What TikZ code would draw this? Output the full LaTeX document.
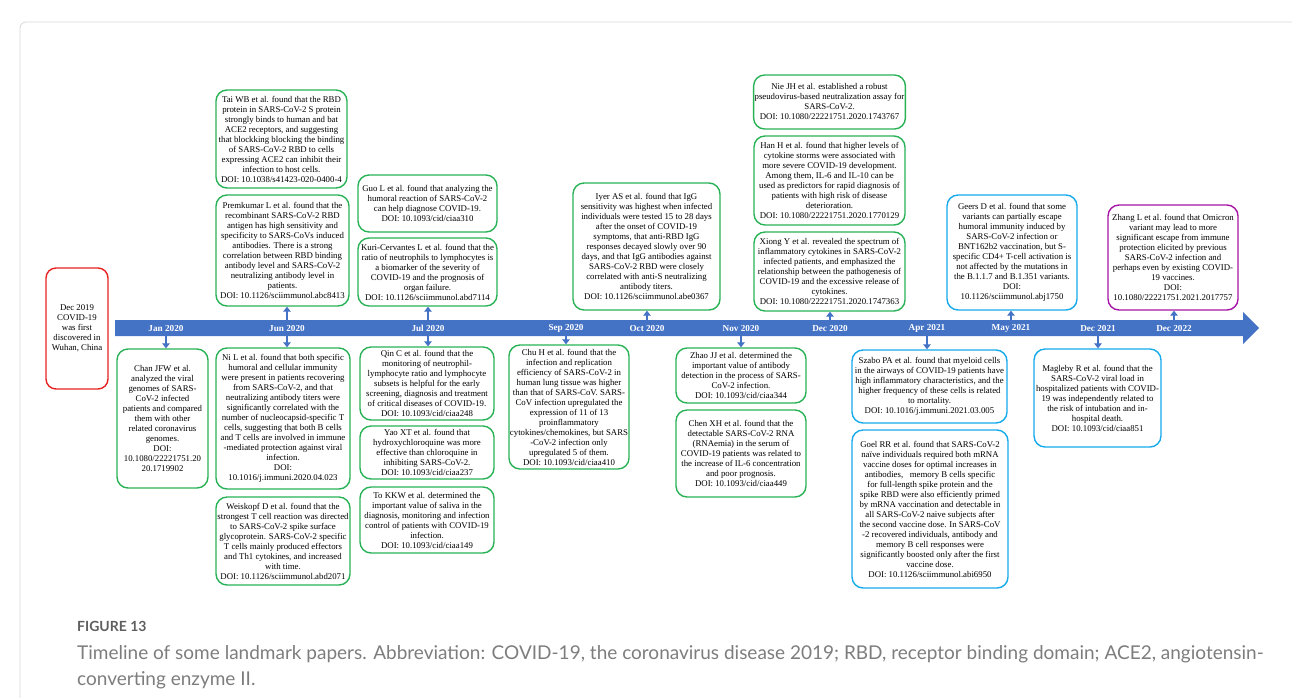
\documentclass[tikz,border=0pt]{standalone}
\usepackage{fontspec}
\setmainfont{Liberation Serif}
\newfontfamily\capfont{Lato}
\usepackage{xcolor}
\usetikzlibrary{arrows.meta}
\definecolor{barblue}{RGB}{68,114,196}
\definecolor{boxgreen}{RGB}{40,178,85}
\definecolor{boxblue}{RGB}{20,170,235}
\definecolor{boxred}{RGB}{232,32,32}
\definecolor{boxpurple}{RGB}{165,20,165}
\definecolor{framegray}{RGB}{215,215,215}
\definecolor{figgray}{RGB}{95,95,95}
\definecolor{capgray}{RGB}{125,125,125}

\begin{document}
\begin{tikzpicture}[x=1pt,y=-1pt,
  paper/.style={draw=boxgreen, line width=1.4pt, rounded corners=11pt, align=center, inner sep=1pt, font=\fontsize{8.8}{10}\selectfont},
  month/.style={text=white, font=\bfseries\fontsize{9.2}{10}\selectfont, minimum height=16, inner sep=0pt},
  linkarrow/.style={draw=barblue, line width=2.6pt, -{Triangle[width=7.5pt,length=5pt]}}]
\useasboundingbox (0,0) rectangle (1292,697);
\draw[framegray, line width=0.8pt, rounded corners=6pt] (20,710) -- (20,22) -- (1310,22);

\fill[barblue] (115,320) -- (1243,320) -- (1243,312) -- (1259,328) -- (1243,344) -- (1243,336) -- (115,336) -- cycle;
\foreach \x/\m/\n in {166/Jan 2020/jan20, 287/Jun 2020/jun20, 428/Jul 2020/jul20, 566/Sep 2020/sep20, 647/Oct 2020/oct20, 741/Nov 2020/nov20, 830/Dec 2020/dec20, 927/Apr 2021/apr21, 1011/May 2021/may21, 1098/Dec 2021/dec21, 1174/Dec 2022/dec22}
  \node[month] (\n) at (\x,328) {\m};

\node[paper, draw=boxred, rounded corners=10pt, minimum width=62, minimum height=121] (dec19) at (77,328.5) {Dec 2019\\COVID-19\\was first\\discovered in\\Wuhan, China};

\node[paper, minimum width=91, minimum height=139] (chan) at (162.5,418.5) {Chan JFW et al.\\analyzed the viral\\genomes of SARS-\\CoV-2 infected\\patients and compared\\them with other\\related coronavirus\\genomes.\\DOI:\\10.1080/22221751.20\\20.1719902};

\node[paper, minimum width=131, minimum height=98] (tai) at (281.5,139) {Tai WB et al. found that the RBD\\protein in SARS-CoV-2 S protein\\strongly binds to human and bat\\ACE2 receptors, and suggesting\\that blockking blocking the binding\\of SARS-CoV-2 RBD to cells\\expressing ACE2 can inhibit their\\infection to host cells.\\DOI: 10.1038/s41423-020-0400-4};
\node[paper, minimum width=133, minimum height=111] (prem) at (282.5,250.5) {Premkumar L et al. found that the\\recombinant SARS-CoV-2 RBD\\antigen has high sensitivity and\\specificity to SARS-CoVs induced\\antibodies. There is a strong\\correlation between RBD binding\\antibody level and SARS-CoV-2\\neutralizing antibody level in\\patients.\\DOI: 10.1126/sciimmunol.abc8413};
\node[paper, minimum width=134, minimum height=141] (ni) at (283,418.5) {Ni L et al. found that both specific\\humoral and cellular immunity\\were present in patients recovering\\from SARS-CoV-2, and that\\neutralizing antibody titers were\\significantly correlated with the\\number of nucleocapsid-specific T\\cells, suggesting that both B cells\\and T cells are involved in immune\\-mediated protection against viral\\infection.\\DOI:\\10.1016/j.immuni.2020.04.023};
\node[paper, minimum width=134, minimum height=88] (weis) at (283,541) {Weiskopf D et al. found that the\\strongest T cell reaction was directed\\to SARS-CoV-2 spike surface\\glycoprotein. SARS-CoV-2 specific\\T cells mainly produced effectors\\and Th1 cytokines, and increased\\with time.\\DOI: 10.1126/sciimmunol.abd2071};

\node[paper, minimum width=139, minimum height=57] (guo) at (427.5,203.5) {Guo L et al. found that analyzing the\\humoral reaction of SARS-CoV-2\\can help diagnose COVID-19.\\DOI: 10.1093/cid/ciaa310};
\node[paper, minimum width=139, minimum height=68] (kuri) at (427.5,272) {Kuri-Cervantes L et al. found that the\\ratio of neutrophils to lymphocytes is\\a biomarker of the severity of\\COVID-19 and the prognosis of\\organ failure.\\DOI: 10.1126/sciimmunol.abd7114};
\node[paper, minimum width=134, minimum height=73] (qin) at (427,383.5) {Qin C et al. found that the\\monitoring of neutrophil-\\lymphocyte ratio and lymphocyte\\subsets is helpful for the early\\screening, diagnosis and treatment\\of critical diseases of COVID-19.\\DOI: 10.1093/cid/ciaa248};
\node[paper, minimum width=134, minimum height=53] (yao) at (427,452.5) {Yao XT et al. found that\\hydroxychloroquine was more\\effective than chloroquine in\\inhibiting SARS-CoV-2.\\DOI: 10.1093/cid/ciaa237};
\node[paper, minimum width=134, minimum height=66] (tokkw) at (427,520) {To KKW et al. determined the\\important value of saliva in the\\diagnosis, monitoring and infection\\control of patients with COVID-19\\infection.\\DOI: 10.1093/cid/ciaa149};

\node[paper, minimum width=116, minimum height=124] (chu) at (569,407) {Chu H et al. found that the\\infection and replication\\efficiency of SARS-CoV-2 in\\human lung tissue was higher\\than that of SARS-CoV. SARS-\\CoV infection upregulated the\\expression of 11 of 13\\proinflammatory\\cytokines/chemokines, but SARS\\-CoV-2 infection only\\upregulated 5 of them.\\DOI: 10.1093/cid/ciaa410};
\node[paper, minimum width=147, minimum height=127] (iyer) at (646.5,246.5) {Iyer AS et al. found that IgG\\sensitivity was highest when infected\\individuals were tested 15 to 28 days\\after the onset of COVID-19\\symptoms, that anti-RBD IgG\\responses decayed slowly over 90\\days, and that IgG antibodies against\\SARS-CoV-2 RBD were closely\\correlated with anti-S neutralizing\\antibody titers.\\DOI: 10.1126/sciimmunol.abe0367};

\node[paper, minimum width=130, minimum height=55] (zhao) at (741,375.5) {Zhao JJ et al. determined the\\important value of antibody\\detection in the process of SARS-\\CoV-2 infection.\\DOI: 10.1093/cid/ciaa344};
\node[paper, minimum width=130, minimum height=87] (chen) at (741,453.5) {Chen XH et al. found that the\\detectable SARS-CoV-2 RNA\\(RNAemia) in the serum of\\COVID-19 patients was related to\\the increase of IL-6 concentration\\and poor prognosis.\\DOI: 10.1093/cid/ciaa449};

\node[paper, minimum width=151, minimum height=54] (nie) at (829.5,102) {Nie JH et al. established a robust\\pseudovirus-based neutralization assay for\\SARS-CoV-2.\\DOI: 10.1080/22221751.2020.1743767};
\node[paper, minimum width=151, minimum height=89] (han) at (829.5,180.5) {Han H et al. found that higher levels of\\cytokine storms were associated with\\more severe COVID-19 development.\\Among them, IL-6 and IL-10 can be\\used as predictors for rapid diagnosis of\\patients with high risk of disease\\deterioration.\\DOI: 10.1080/22221751.2020.1770129};
\node[paper, minimum width=151, minimum height=79] (xiong) at (829.5,271.5) {Xiong Y et al. revealed the spectrum of\\inflammatory cytokines in SARS-CoV-2\\infected patients, and emphasized the\\relationship between the pathogenesis of\\COVID-19 and the excessive release of\\cytokines.\\DOI: 10.1080/22221751.2020.1747363};

\node[paper, draw=boxblue, minimum width=155, minimum height=73] (szabo) at (929.5,386.5) {Szabo PA et al. found that myeloid cells\\in the airways of COVID-19 patients have\\high inflammatory characteristics, and the\\higher frequency of these cells is related\\to mortality.\\DOI: 10.1016/j.immuni.2021.03.005};
\node[paper, draw=boxblue, minimum width=156, minimum height=158] (goel) at (930,509) {Goel RR et al. found that SARS-CoV-2\\naïve individuals required both mRNA\\vaccine doses for optimal increases in\\antibodies,\ \ \ memory B cells specific\\for full-length spike protein and the\\spike RBD were also efficiently primed\\by mRNA vaccination and detectable in\\all SARS-CoV-2 naive subjects after\\the second vaccine dose. In SARS-CoV\\-2 recovered individuals, antibody and\\memory B cell responses were\\significantly boosted only after the first\\vaccine dose.\\DOI: 10.1126/sciimmunol.abi6950};
\node[paper, draw=boxblue, minimum width=130, minimum height=115] (geers) at (1012,252.5) {Geers D et al. found that some\\variants can partially escape\\humoral immunity induced by\\SARS-CoV-2 infection or\\BNT162b2 vaccination, but S-\\specific CD4+ T-cell activation is\\not affected by the mutations in\\the B.1.1.7 and B.1.351 variants.\\DOI:\\10.1126/sciimmunol.abj1750};
\node[paper, draw=boxblue, inner sep=2pt, minimum width=124, minimum height=98] (magleby) at (1097.5,398) {Magleby R et al. found that the\\SARS-CoV-2 viral load in\\hospitalized patients with COVID-\\19 was independently related to\\the risk of intubation and in-\\hospital death.\\DOI: 10.1093/cid/ciaa851};
\node[paper, draw=boxpurple, minimum width=130, minimum height=105] (zhang) at (1173,257.5) {Zhang L et al. found that Omicron\\variant may lead to more\\significant escape from immune\\protection elicited by previous\\SARS-CoV-2 infection and\\perhaps even by existing COVID-\\19 vaccines.\\DOI:\\10.1080/22221751.2021.2017757};

\draw[linkarrow] (jan20.south) -- (jan20.south |- chan.north);
\draw[linkarrow] (jun20.north) -- (jun20.north |- prem.south);
\draw[linkarrow] (jun20.south) -- (jun20.south |- ni.north);
\draw[linkarrow] (jul20.north) -- (jul20.north |- kuri.south);
\draw[linkarrow] (jul20.south) -- (jul20.south |- qin.north);
\draw[linkarrow] (sep20.south) -- (sep20.south |- chu.north);
\draw[linkarrow] (oct20.north) -- (oct20.north |- iyer.south);
\draw[linkarrow] (nov20.south) -- (nov20.south |- zhao.north);
\draw[linkarrow] (dec20.north) -- (dec20.north |- xiong.south);
\draw[linkarrow] (apr21.south) -- (apr21.south |- szabo.north);
\draw[linkarrow] (may21.north) -- (may21.north |- geers.south);
\draw[linkarrow] (dec21.south) -- (dec21.south |- magleby.north);
\draw[linkarrow] (dec22.north) -- (dec22.north |- zhang.south);

\node[anchor=base west, inner sep=0pt, text=figgray, font=\capfont\bfseries\fontsize{14}{16}\selectfont] (figno) at (77,631) {FIGURE 13};
\node[anchor=base west, inner sep=0pt, text=capgray, font=\capfont\fontsize{19}{26}\selectfont] (capone) at (77,659) {Timeline of some landmark papers. Abbreviation: COVID-19, the coronavirus disease 2019; RBD, receptor binding domain; ACE2, angiotensin-};
\node[anchor=base west, inner sep=0pt, text=capgray, font=\capfont\fontsize{19}{26}\selectfont] (captwo) at (77,685) {converting enzyme II.};
\end{tikzpicture}
\end{document}
